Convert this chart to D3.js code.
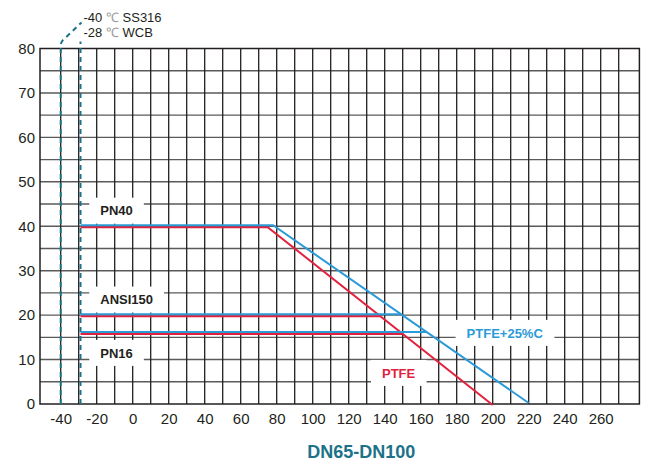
<!DOCTYPE html>
<html>
<head>
<meta charset="utf-8">
<script src="https://cdn.jsdelivr.net/npm/d3@7"></script>
<style>
  body { margin: 0; background: #fff; }
  text { font-family: "Liberation Sans", Arial, sans-serif; }
</style>
</head>
<body>
<svg id="chart" width="645" height="462"></svg>
<script>
// temperature (°C) vs pressure (bar), DN65-DN100
const xTicks = [-40, -20, 0, 20, 40, 60, 80, 100, 120, 140, 160, 180, 200, 220, 240, 260];
const yTicks = [0, 10, 20, 30, 40, 50, 60, 70, 80];
const minTemps = [-40, -29];
const minLabels = ['-40', '-28'];
const minMaterials = ['SS316', 'WCB'];

// seat curves: each entry is one polyline [temp, pressure]
const ptfeC = [
  [[-29, 40], [78, 40], [220, 0]],
  [[-29, 20], [149, 20]],
  [[-29, 16], [163, 16]]
];
const ptfe = [
  [[-29, 40], [75, 40], [200, 0]],
  [[-29, 20], [137.5, 20]],
  [[-29, 16], [150, 16]]
];
const classLabels = ['PN40', 'ANSI150', 'PN16'];
const classPos = [[-18, 43.5], [-18, 23.5], [-18, 11.5]];
const seatLabels = ['PTFE+25%C', 'PTFE'];
const seatPos = [[185.5, 16], [138.5, 7]];

const BLUE = '#2a9ad8';
const RED = '#e2213f';
const TEAL = '#1c7289';

const svg = d3.select('#chart');
const x = d3.scaleLinear().domain([-51.5, 281.5]).range([40, 639.4]);
const y = d3.scaleLinear().domain([0, 80]).range([404, 48.5]);

// grid
const grid = svg.append('g');
grid.selectAll('line.h').data(d3.range(5, 80, 5)).enter().append('line')
  .attr('x1', x.range()[0]).attr('x2', x.range()[1])
  .attr('y1', d => y(d)).attr('y2', d => y(d))
  .attr('stroke', '#5a5a5a').attr('stroke-width', 1.4);
grid.selectAll('line.v').data(d3.range(-40, 271, 10)).enter().append('line')
  .attr('y1', y(0)).attr('y2', y(80))
  .attr('x1', d => x(d)).attr('x2', d => x(d))
  .attr('stroke', '#231f20').attr('stroke-width', 1.3);
grid.append('rect')
  .attr('x', x.range()[0]).attr('y', y(80))
  .attr('width', x.range()[1] - x.range()[0]).attr('height', y(0) - y(80))
  .attr('fill', 'none').attr('stroke', '#231f20').attr('stroke-width', 1.5);

// white boxes behind the labels
function labelBox(sel, txt, pos, color, fs) {
  const g = sel.append('g');
  const t = g.append('text')
    .attr('x', x(pos[0])).attr('y', y(pos[1]))
    .attr('dy', '0.36em')
    .attr('font-size', fs).attr('font-weight', 'bold')
    .attr('fill', color).text(txt);
  const bb = t.node().getBBox();
  g.insert('rect', 'text')
    .attr('x', bb.x - 11).attr('y', y(pos[1]) - 13)
    .attr('width', bb.width + 22).attr('height', 26)
    .attr('fill', '#fff');
}
const labels = svg.append('g');
classLabels.forEach((l, i) => labelBox(labels, l, classPos[i], '#231f20', 13));
labelBox(labels, seatLabels[0], seatPos[0], BLUE, 13);
labelBox(labels, seatLabels[1], seatPos[1], RED, 13);

// axes
const fmt = d => d;
const xAxis = svg.append('g').attr('transform', `translate(0,${y(0)})`)
  .call(d3.axisBottom(x).tickValues(xTicks).tickSize(0).tickPadding(9).tickFormat(fmt));
const yAxis = svg.append('g').attr('transform', `translate(${x.range()[0]},0)`)
  .call(d3.axisLeft(y).tickValues(yTicks).tickSize(0).tickPadding(5).tickFormat(fmt));
[xAxis, yAxis].forEach(a => {
  a.select('.domain').remove();
  a.selectAll('text').attr('font-size', 15).attr('fill', '#231f20')
    .style('font-family', '"Liberation Sans", Arial, sans-serif');
});

// min temperature dashed lines
const dashes = svg.append('g').attr('fill', 'none').attr('stroke', TEAL)
  .attr('stroke-width', 2).attr('stroke-dasharray', '5,4');
dashes.append('path')
  .attr('d', () => {
    const x0 = x(minTemps[0]);
    return `M${x0},${y(0)} L${x0},${y(80) - 3} Q${x0},${y(80) - 7} ${x0 + 4},${y(80) - 10} L${x(minTemps[1]) + 1},${y(80) - 26}`;
  });
dashes.append('line')
  .attr('x1', x(minTemps[1])).attr('x2', x(minTemps[1]))
  .attr('y1', y(0)).attr('y2', y(80) - 7);

const legend = svg.append('g').attr('font-size', 13).attr('fill', '#231f20');
minLabels.forEach((l, i) => {
  const t = legend.append('text')
    .attr('x', x(minTemps[1]) + 3).attr('y', 22 + i * 15);
  t.append('tspan').text(l);
  t.append('tspan').attr('fill', '#9a9a9a').text(' \u2103');
  t.append('tspan').text(' ' + minMaterials[i]);
});

// seat curves
const line = d3.line().x(d => x(d[0])).y(d => y(d[1]));
svg.append('g').attr('transform', 'translate(0,1)')
  .selectAll('path').data(ptfe).enter().append('path')
  .attr('d', line).attr('fill', 'none').attr('stroke', RED).attr('stroke-width', 2);
svg.append('g').attr('transform', 'translate(0,-1)')
  .selectAll('path').data(ptfeC).enter().append('path')
  .attr('d', line).attr('fill', 'none').attr('stroke', BLUE).attr('stroke-width', 2);

// title
svg.append('text')
  .attr('x', x(127)).attr('y', 458)
  .attr('text-anchor', 'middle')
  .attr('font-size', 18).attr('font-weight', 'bold')
  .attr('fill', TEAL).text('DN65-DN100');
</script>
</body>
</html>
